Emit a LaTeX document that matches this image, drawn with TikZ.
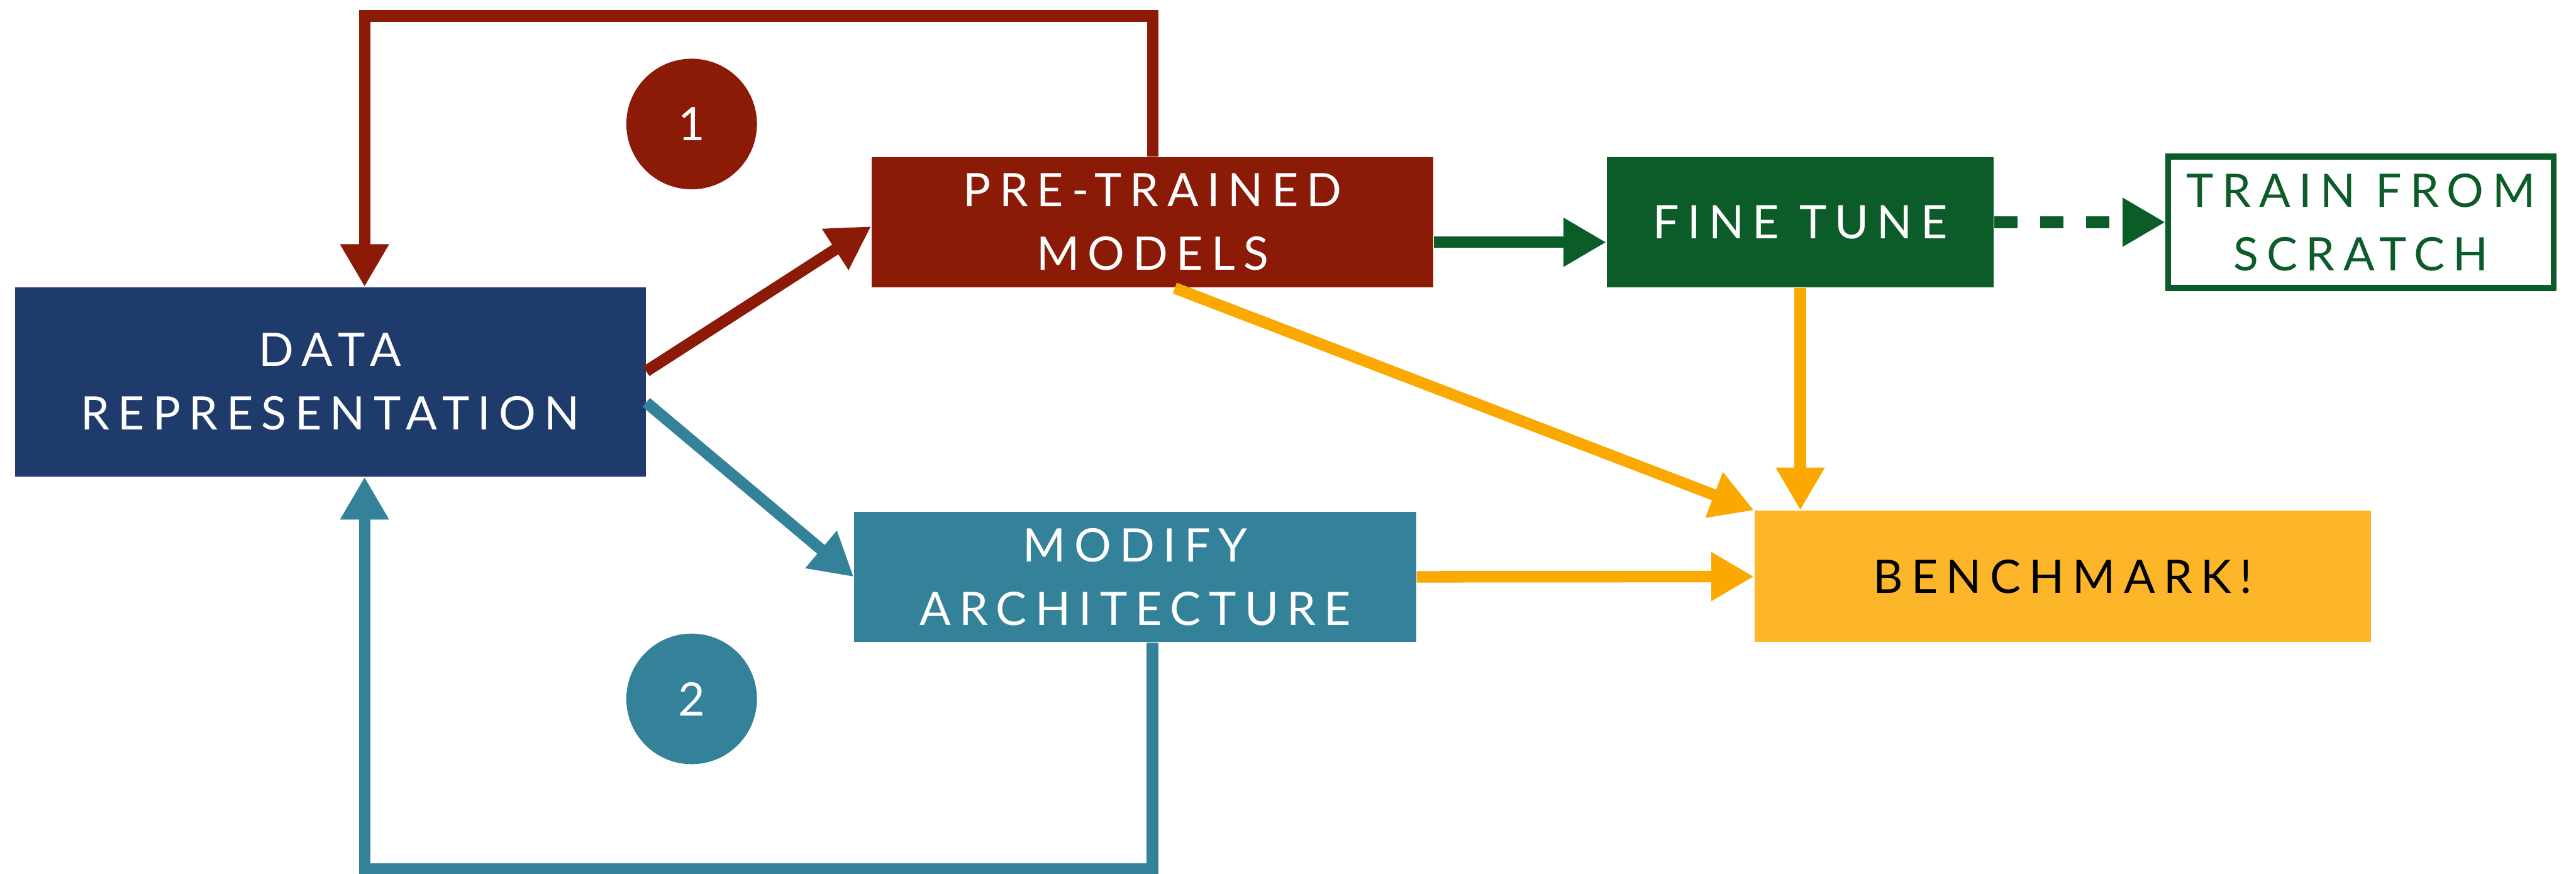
\documentclass[tikz,border=0pt]{standalone}
\usepackage{fontspec}
\setmainfont{Lato}[LetterSpace=18]
\usetikzlibrary{arrows.meta}

\definecolor{pretrainred}{HTML}{8B1A07}
\definecolor{datanavy}{HTML}{1F3B6C}
\definecolor{archteal}{HTML}{348299}
\definecolor{tunegreen}{HTML}{0B5C28}
\definecolor{benchfill}{HTML}{FDB62A}
\definecolor{benchline}{HTML}{FBA800}

\tikzset{
  stage/.style = {rectangle, inner sep = 0pt, align = center, text = white,
    font = \fontsize{16}{22}\selectfont},
  badge/.style = {circle, inner sep = 0pt, minimum size = 15.9mm, text = white,
    font = \fontsize{16}{22}\selectfont},
  flow/.style = {line width = 1.4mm, -{Triangle[length = 5.2mm, width = 5.6mm]}},
}

\begin{document}
\begin{tikzpicture}[x = 0.2mm, y = -0.2mm]
  \useasboundingbox (0, 0) rectangle (1568, 532);

  % boxes
  \node[stage, fill = datanavy, minimum width = 76.8mm, minimum height = 23mm] (data) at (201, 232.5) {DATA\\REPRESENTATION};
  \node[stage, fill = pretrainred, minimum width = 68.4mm, minimum height = 15.9mm] (pretrained) at (701.6, 135.3) {PRE-TRAINED\\MODELS};
  \node[stage, fill = tunegreen, minimum width = 47.1mm, minimum height = 15.9mm] (finetune) at (1095.8, 135.3) {FINE TUNE};
  \node[stage, draw = tunegreen, line width = 0.7mm, text = tunegreen, minimum width = 46.9mm, minimum height = 16mm] (scratch) at (1437, 135.3) {TRAIN FROM\\SCRATCH};
  \node[stage, fill = archteal, minimum width = 68.4mm, minimum height = 15.9mm] (modify) at (691, 351.2) {MODIFY\\ARCHITECTURE};
  \node[stage, fill = benchfill, text = black, minimum width = 75mm, minimum height = 16mm] (benchmark) at (1255.5, 351) {BENCHMARK!};

  \node[badge, fill = pretrainred] (one) at (421, 75.5) {1};
  \node[badge, fill = archteal] (two) at (421, 425.5) {2};

  % loops back to the data
  \coordinate (redcorner) at (221.9, 9.75);
  \coordinate (tealcorner) at (221.9, 529);
  \draw[flow, pretrainred] (pretrained.north) |- (redcorner) -- (redcorner |- data.north);
  \draw[flow, archteal] ([xshift = 2.1mm]modify.south) |- (tealcorner) -- (tealcorner |- data.south);

  % forward paths
  \draw[flow, pretrainred] ([yshift = 1.3mm]data.east) -- ([yshift = -0.5mm]pretrained.west);
  \draw[flow, archteal] ([yshift = -2.5mm]data.east) -- (modify.west);
  \draw[flow, tunegreen] ([yshift = -2.44mm]pretrained.east) -- ([yshift = -2.44mm]finetune.west);
  \draw[flow, tunegreen, dash pattern = on 2.8mm off 2.8mm] (finetune.east) -- (scratch.west);

  % into the benchmark
  \draw[flow, benchline] ([xshift = 2.7mm]pretrained.south) -- (benchmark.north west);
  \draw[flow, benchline] (finetune.south) -- (finetune.south |- benchmark.north);
  \draw[flow, benchline] (modify.east) -- (benchmark.west);
\end{tikzpicture}
\end{document}
